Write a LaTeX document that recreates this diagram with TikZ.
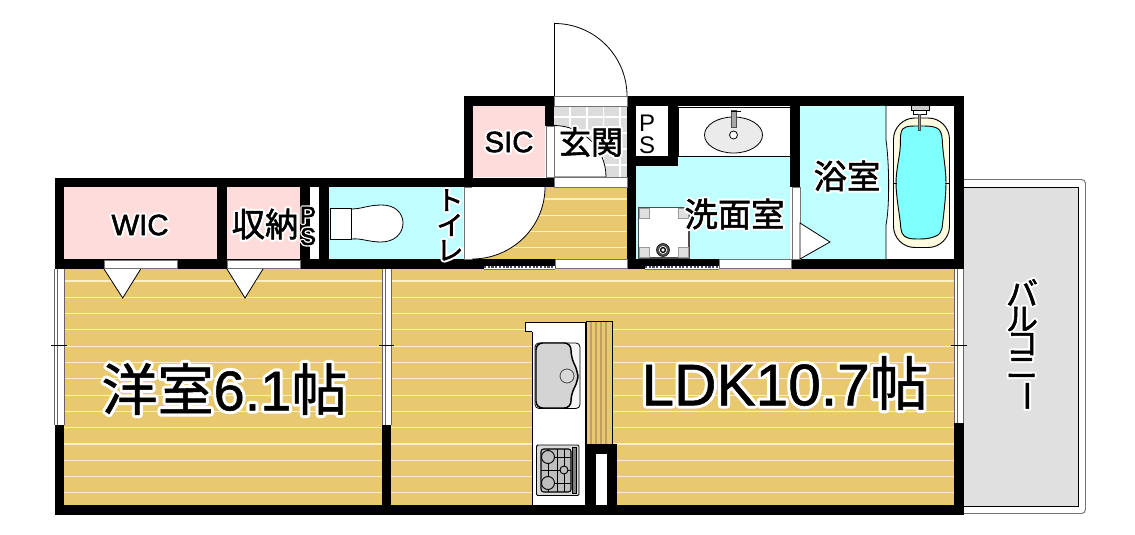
\documentclass[tikz,border=0pt]{standalone}
\usepackage{fontspec}
\setmainfont{Liberation Sans}
\newfontfamily\jp{Noto Sans CJK JP}
\definecolor{floorc}{HTML}{E8C970}
\definecolor{floorl}{HTML}{FFF0C4}
\definecolor{pinkc}{HTML}{FFDCDC}
\definecolor{cyanc}{HTML}{BFFFFF}
\definecolor{balc}{HTML}{E0E0E0}
\definecolor{tile}{HTML}{DCDCDC}
\definecolor{creamc}{HTML}{FFFBE0}
\definecolor{aquac}{HTML}{80FFFF}
\definecolor{stripec}{HTML}{BFA060}
\newcommand\halo[2][3.5]{\leavevmode\rlap{\special{pdf:code q 1 1 1 RG 1 1 1 rg #1 w 1 j 2 Tr}#2\special{pdf:code Q}}\special{pdf:code q 0 0 0 RG 0 0 0 rg .4 w 2 Tr}#2\special{pdf:code Q}}
\newcommand\fsz[1]{\fontsize{#1}{#1}\selectfont}
\tikzset{
  wall/.style={fill=black},
  strip/.style={fill=white,draw=black!55,line width=.45pt},
  fix/.style={fill=white,draw=black,line width=.6pt},
  lab/.style={inner sep=0pt,outer sep=0pt,text=black,align=center},
}
\begin{document}
\begin{tikzpicture}[x=.75pt,y=-.75pt]
\useasboundingbox (0,0) rectangle (1135,535);
% balcony
\draw[draw=black!55,line width=.7pt,fill=white,rounded corners=3pt] (955,179.5) -- (1085.5,179.5) -- (1085.5,513.5) -- (955,513.5) -- cycle;
\draw[fill=balc,draw=black,line width=.6pt] (963,187) rectangle (1078,506);
% floors
\fill[floorc] (64,269) rectangle (954,505);
\fill[floorc] (472,187) rectangle (627,259);
\foreach \k in {0,...,13}{\draw[floorl,line width=.8pt] (64,281+16.3*\k) -- (954,281+16.3*\k);}
\foreach \k in {0,...,3}{\draw[floorl,line width=.8pt] (472,199+16.3*\k) -- (627,199+16.3*\k);}
% rooms
\fill[pinkc] (64,187) rectangle (217,259);
\fill[pinkc] (227,187) rectangle (300,259);
\fill[pinkc] (473,106) rectangle (545,177);
\fill[cyanc] (329,187) rectangle (463,259);
\fill[cyanc] (636,156) rectangle (790,259);
\fill[cyanc] (800,106) rectangle (886,259);
\fill[white] (310,187) rectangle (319,259);
% genkan
\fill[tile] (554,106) rectangle (627,177);
\foreach \x in {570,587,603.5,620}{\draw[white,line width=.8pt] (\x,106) -- (\x,177);}
\foreach \y in {117,133,149,165}{\draw[white,line width=.8pt] (554,\y) -- (627,\y);}
\draw[fill=white,draw=black,line width=.6pt] (554,125.5) .. controls (582.7,125.5) and (606,148.5) .. (606,177) -- (554,177) -- cycle;
% walls
\fill[wall] (464,96) rectangle (554,106);
\fill[wall] (627,96) rectangle (963,106);
\fill[wall] (464,96) rectangle (473,187);
\fill[wall] (545,96) rectangle (554,126);
\fill[wall] (55,177.5) rectangle (554,187);
\fill[wall] (54.5,177.5) rectangle (64,269);
\fill[wall] (217,187) rectangle (227,269);
\fill[wall] (300,187) rectangle (310,269);
\fill[wall] (319,187) rectangle (329,269);
\fill[wall] (627,96) rectangle (636,269);
\fill[wall] (668,106) rectangle (678,166);
\fill[wall] (636,156) rectangle (678,166);
\fill[wall] (790,96) rectangle (800,187);
\fill[wall] (954,96) rectangle (963.5,269);
\fill[wall] (54.5,259) rectangle (484,269);
\fill[wall] (484,259) rectangle (555,265.5);
\fill[wall] (627,259) rectangle (645,269);
\fill[wall] (645,259) rectangle (719,265.5);
\fill[wall] (791,259) rectangle (963.5,269);
\fill[wall] (54.5,425) rectangle (64,515);
\fill[wall] (382,425) rectangle (391,515);
\fill[wall] (954,423) rectangle (963.5,515);
\fill[wall] (54.5,505) rectangle (963.5,515);
% door and window strips
\draw[strip] (554,96) rectangle (627,106);
\draw[strip] (554,177) rectangle (627,187);
\draw[strip] (546,126) rectangle (554,177);
\draw[strip] (464,187) rectangle (472,259);
\draw[strip] (792,187) rectangle (800,259);
\draw[strip] (104,260) rectangle (177,268);
\draw[strip] (227,260) rectangle (300,268);
\draw[strip] (555,259.5) rectangle (627,268.5);
\draw[strip] (719,259.5) rectangle (791,268.5);
\fill[white] (484,265.5) rectangle (555,269);
\draw[black!70,line width=1.1pt,dash pattern=on 1.6pt off 1.2pt] (484,267) -- (555,267);
\draw[black!55,line width=.5pt] (484,269.3) -- (555,269.3);
\fill[white] (645,265.5) rectangle (719,269);
\draw[black!70,line width=1.1pt,dash pattern=on 1.6pt off 1.2pt] (645,267) -- (719,267);
\draw[black!55,line width=.5pt] (645,269.3) -- (719,269.3);
\foreach \x/\xb/\yb in {54.5/64/425,382/391/425,954/963.5/423}{
  \fill[white] (\x,269) rectangle (\xb,\yb);
  \draw[black!60,line width=.5pt] (\x,269) -- (\x,\yb) (\xb,269) -- (\xb,\yb);
  \draw[black!60,line width=.5pt] (\x+3,269) -- (\x+3,\yb);
  \draw[black,line width=.45pt] (\x-3.5,345) -- (\xb+3,345);
}
% doors
\draw[fix] (554.5,96) -- (554.5,23.5) .. controls (594.5,23.5) and (627,56) .. (627,96);
\fill[white] (472,187) -- (545,187) .. controls (545,227) and (512,259) .. (472,259) -- cycle;
\draw[black,line width=.6pt] (545,187) .. controls (545,227) and (512,259) .. (472,259);
\draw[fix] (104,269) -- (122.7,298) -- (140.7,269);
\draw[fix] (227,269) -- (245,298) -- (263,269);
\draw[fix] (800,223) -- (830,242) -- (800,259) -- cycle;
% PS box and basin
\fill[white] (636,106) rectangle (668,156);
\draw[fix] (678,107) rectangle (790,156);
\draw[fill=black!8,draw=black,line width=.6pt] (733.5,135) ellipse [x radius=29,y radius=18];
\draw[fill=black!35,draw=black!70,line width=.4pt] (731,110.5) rectangle (736,127);
\draw[black,line width=.6pt] (731,111) -- (741,111);
\draw[fix] (733.5,135) circle [radius=4];
% washing pan
\draw[fill=white,draw=black!70,line width=.8pt] (638.5,207.5) rectangle (689,258);
\foreach \x/\y in {639/208,678/208,639/247,678/247}{\draw[fill=black!12,draw=black!40,line width=.3pt] (\x,\y) rectangle ++(10.5,10.5);}
\draw[fill=black!70,draw=black] (663,250) circle [radius=6.5];
\draw[fill=white,draw=none] (663,250) circle [radius=4];
\draw[black,line width=1pt] (663,250) circle [radius=2.4];
% toilet
\draw[fix] (351,209) .. controls (362,209) and (368,205) .. (382,205) .. controls (395,205) and (403,213) .. (403,223) .. controls (403,234) and (394,242) .. (381,242) .. controls (368,242) and (362,238) .. (351,239) -- cycle;
\draw[fix] (330.5,208) rectangle (351,239);
% bath
\fill[white] (886,106) rectangle (954,259);
\fill[cyanc] (880,106) -- (886,106) -- (886,140) .. controls (889,160) and (890,205) .. (886,225) -- (886,259) -- (880,259) -- cycle;
\draw[black,line width=.6pt] (886,106) -- (886,140) .. controls (889,160) and (890,205) .. (886,225) -- (886,259);
\draw[fill=creamc,draw=black,line width=.7pt,rounded corners=16pt] (893.5,118) rectangle (949.5,247.5);
\draw[fill=aquac,draw=black,line width=.7pt] plot[smooth cycle,tension=.6] coordinates {(919,126) (934,127) (941,133) (943,150) (946,183) (943,220) (940,233) (930,238) (919,239) (908,238) (902,233) (900,220) (896,183) (900,150) (901,133) (906,127)};
\draw[black,line width=.5pt] (893.5,183) -- (897,183) (945,183) -- (949.5,183);
\draw[fill=black!20,draw=black,line width=.5pt] (911,105) rectangle (929,110);
\draw[fill=white,draw=black,line width=.5pt] (913,110) rectangle (926,114);
\draw[fill=black!40,draw=black!70,line width=.4pt] (918,114) rectangle (920.5,130);
% kitchen
\draw[fix] (532,328) rectangle (585.5,505);
\draw[fix] (525,322) rectangle (585.5,331);
\fill[white] (532.4,329) rectangle (585,332);
\draw[fill=floorc,draw=black,line width=.7pt] (586,321) rectangle (612,444);
\foreach \x in {591,596,601,606}{\draw[stripec,line width=.9pt] (\x,321.5) -- (\x,444);}
\fill[wall] (585.5,444) rectangle (616.5,505);
\fill[white] (596,454) rectangle (607,505);
\draw[fill=black!4,draw=black,line width=.6pt,rounded corners=3pt] (535,343) rectangle (580,408.5);
\draw[fill=black!17,draw=black,line width=1.1pt,rounded corners=5pt] (536,343) -- (571,343) -- (571,357) -- (578,372) -- (578,381) -- (571,394) -- (571,408) -- (536,408) -- cycle;
\draw[fill=black!15,draw=black!75,line width=.6pt] (567,376) circle [radius=7];
\draw[fill=black!15,draw=black,line width=.7pt,rounded corners=1pt] (536.5,445) rectangle (579,495.5);
\draw[fill=black!25,draw=black,line width=.8pt,rounded corners=2pt] (541,449) rectangle (571,492);
\foreach \x in {548,557,564}{\draw[black,line width=.6pt] (\x,449) -- (\x,492);}
\foreach \y in {457,470,483}{\draw[black,line width=.6pt] (541,\y) -- (571,\y);}
\draw[fill=black!50,draw=black,line width=.5pt] (572,447) rectangle (576,493);
\draw[fill=black!25,draw=black,line width=.7pt] (548,457) circle [radius=6.5];
\draw[fill=black!25,draw=black,line width=.7pt] (548,483) circle [radius=6.5];
\draw[fill=black!25,draw=black,line width=.7pt] (564,470) circle [radius=4];
% labels
\node[lab] (yoshitsu) at (224.5,389) {\fsz{42}\halo[5]{\jp 洋室{\rmfamily 6.1}帖}};
\node[lab] (ldk) at (785,383) {\fsz{44}\halo[5]{LDK10.7{\jp 帖}}};
\node[lab] (wic) at (140,225) {\fsz{22}\halo{WIC}};
\node[lab] (shuno) at (265,224) {\fsz{25}\halo{\jp 収納}};
\node[lab] (sic) at (509,142) {\fsz{22}\halo{SIC}};
\node[lab] (genkan) at (591,142) {\fsz{24}\halo{\jp 玄関}};
\node[lab] (senmen) at (734.5,214) {\fsz{25}\halo{\jp 洗面室}};
\node[lab] (yoku) at (847,176) {\fsz{25}\halo{\jp 浴室}};
\node[lab,font=\jp\fontsize{20}{18.7}\selectfont] (toire) at (450,225) {\halo{ト}\\\halo{イ}\\\halo{レ}};
\node[lab,font=\jp\fontsize{24}{18}\selectfont] (bal) at (1022,341) {\halo{バ}\\\halo{ル}\\\halo{コ}\\\halo{ニ}\\\smash{\rotatebox[origin=c]{-90}{\halo{ー}}}};
\node[lab,font=\fontsize{18}{16.5}\selectfont] (ps1) at (647,134) {P\\S};
\node[lab,font=\fontsize{18}{16}\selectfont] (ps2) at (308,226) {\halo[2.5]{P}\\\halo[2.5]{S}};
\end{tikzpicture}
\end{document}
